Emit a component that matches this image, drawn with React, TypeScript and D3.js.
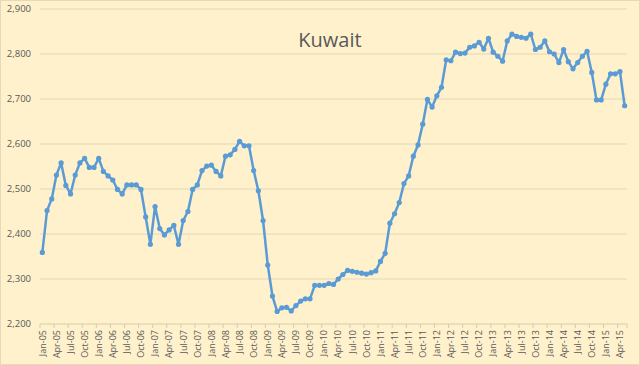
import React from "react";
import * as d3 from "d3";

const monthNames = ["Jan", "Feb", "Mar", "Apr", "May", "Jun", "Jul", "Aug", "Sep", "Oct", "Nov", "Dec"];
const startYear = 2005;
const values: number[] = [
  // 2005
  2359, 2452, 2478, 2531, 2558, 2508, 2489, 2531, 2558, 2568, 2548, 2548,
  // 2006
  2568, 2539, 2529, 2520, 2499, 2489, 2509, 2509, 2509, 2499, 2438, 2377,
  // 2007
  2461, 2412, 2398, 2409, 2419, 2377, 2430, 2450, 2499, 2509, 2541, 2551,
  // 2008
  2553, 2539, 2529, 2573, 2576, 2588, 2606, 2596, 2596, 2541, 2496, 2430,
  // 2009
  2331, 2262, 2228, 2236, 2237, 2229, 2241, 2251, 2256, 2256, 2286, 2286,
  // 2010
  2286, 2290, 2288, 2300, 2310, 2319, 2317, 2315, 2313, 2311, 2314, 2318,
  // 2011
  2339, 2357, 2424, 2445, 2470, 2512, 2529, 2573, 2598, 2644, 2699, 2682,
  // 2012
  2707, 2726, 2787, 2785, 2804, 2801, 2802, 2815, 2818, 2826, 2811, 2835,
  // 2013
  2804, 2795, 2784, 2829, 2844, 2839, 2837, 2835, 2844, 2810, 2815, 2829,
  // 2014
  2805, 2800, 2781, 2810, 2783, 2767, 2781, 2795, 2806, 2759, 2698, 2698,
  // 2015
  2733, 2756, 2756, 2761, 2685,
];
const categories: string[] = values.map((_, i) => {
  const y = startYear + Math.floor(i / 12);
  return `${monthNames[i % 12]}-${String(y).slice(2)}`;
});
const yTicks = [2200, 2300, 2400, 2500, 2600, 2700, 2800, 2900];
const title = "Kuwait";

const W = 640;
const H = 365;
const plot = { left: 40, right: 627, top: 9, bottom: 324 };

export default function App() {
  const x = d3
    .scaleBand<string>()
    .domain(categories)
    .range([plot.left, plot.right]);
  const y = d3.scaleLinear().domain([2200, 2900]).range([plot.bottom, plot.top]);
  const cx = (i: number) => (x(categories[i]) as number) + x.bandwidth() / 2;
  const line = d3
    .line<number>()
    .x((_, i) => cx(i))
    .y((d) => y(d));
  const fmt = d3.format(",");
  const textColor = "#595959";
  const font = "'Open Sans', 'Liberation Sans', sans-serif";

  return (
    <svg
      width={W}
      height={H}
      style={{ position: "absolute", left: 0, top: 0, display: "block" }}
      viewBox={`0 0 ${W} ${H}`}
    >
      <rect x={0} y={0} width={W} height={H} fill="#FEF1CB" />
      <rect x={0.5} y={0.5} width={W - 1} height={H - 1} fill="none" stroke="#E4D9B8" />
      {yTicks.map((t) => (
        <g key={t}>
          <line
            x1={plot.left}
            x2={plot.right}
            y1={y(t)}
            y2={y(t)}
            stroke={t === 2200 ? "#D6CCB0" : "#E3D8B9"}
            strokeWidth={1}
          />
          <text
            x={31}
            y={y(t)}
            dy="0.35em"
            textAnchor="end"
            fontFamily={font}
            fontSize={9.5}
            fill={textColor}
          >
            {fmt(t)}
          </text>
        </g>
      ))}
      {categories.map((c, i) =>
        i % 3 === 0 ? (
          <g key={c}>
            <line
              x1={x(c) as number}
              x2={x(c) as number}
              y1={plot.bottom}
              y2={plot.bottom + 4}
              stroke="#D6CCB0"
            />
            <text
              transform={`translate(${cx(i) + 3.3},${plot.bottom + 6}) rotate(-90)`}
              textAnchor="end"
              fontFamily={font}
              fontSize={9}
              fill={textColor}
            >
              {c}
            </text>
          </g>
        ) : null
      )}
      <line
        x1={plot.right}
        x2={plot.right}
        y1={plot.bottom}
        y2={plot.bottom + 4}
        stroke="#D6CCB0"
      />
      <text
        x={330}
        y={47}
        textAnchor="middle"
        fontFamily={font}
        fontSize={20}
        fill={textColor}
      >
        {title}
      </text>
      <path
        d={line(values) || ""}
        fill="none"
        stroke="#5B9BD5"
        strokeWidth={2.5}
        strokeLinejoin="round"
      />
      {values.map((v, i) => (
        <circle key={i} cx={cx(i)} cy={y(v)} r={2.6} fill="#5B9BD5" />
      ))}
    </svg>
  );
}
